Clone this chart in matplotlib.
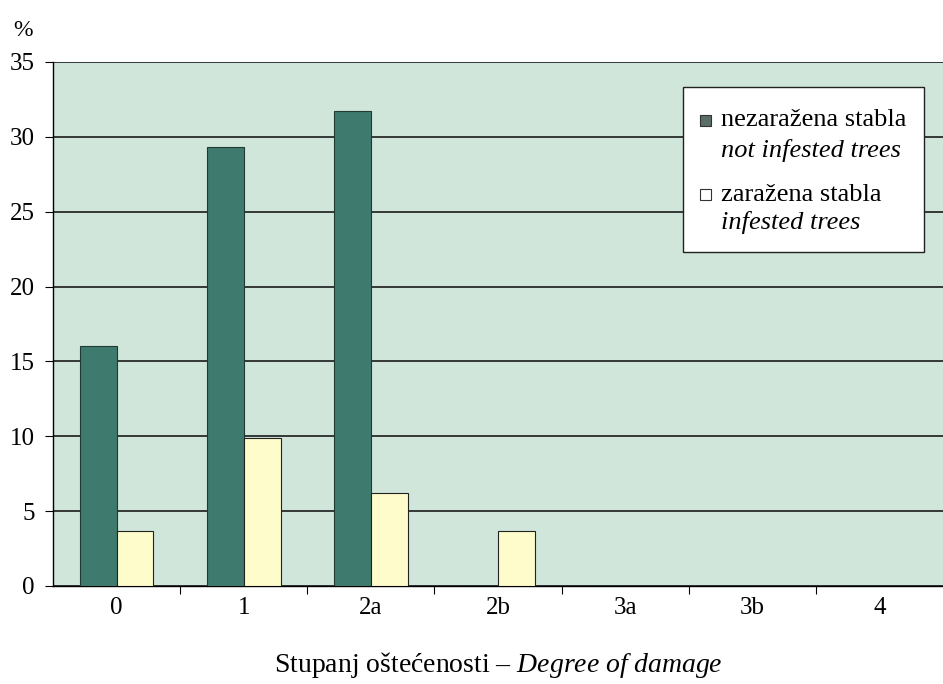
import numpy as np
import matplotlib.pyplot as plt
from matplotlib.patches import Rectangle

plt.rcParams['font.family'] = ['Liberation Serif', 'DejaVu Serif']
plt.rcParams['mathtext.fontset'] = 'custom'
plt.rcParams['mathtext.it'] = 'Liberation Serif:italic'
plt.rcParams['mathtext.rm'] = 'Liberation Serif'

# postotak stabala po stupnju oštećenosti
categories = ['0', '1', '2a', '2b', '3a', '3b', '4']
not_infested = [16.0, 29.3, 31.7, 0, 0, 0, 0]
infested = [3.7, 9.9, 6.2, 3.7, 0, 0, 0]

dark = '#3e7b6e'
light = '#fffccc'
bg = '#d0e6da'

fig = plt.figure(figsize=(9.43, 6.84), dpi=100)
ax = fig.add_axes([0.0562, 0.1433, 0.9438, 0.7661])
ax.set_facecolor(bg)

x = np.arange(len(categories))
w = 0.29
ax.bar(x - w / 2, not_infested, w, color=dark, edgecolor='#1e3a33', linewidth=0.8, zorder=3)
ax.bar(x + w / 2, infested, w, color=light, edgecolor='#222222', linewidth=0.8, zorder=3)

ax.set_xlim(-0.5, len(categories) - 0.5)
ax.set_ylim(0, 35)
ax.set_yticks(range(0, 36, 5))
ax.yaxis.grid(True, color='#1a1a1a', linewidth=1.2, zorder=1)
ax.set_axisbelow(True)

ax.set_xticks(x)
ax.set_xticklabels(categories)
ax.set_xticks(np.arange(0.5, len(categories) - 0.5, 1), minor=True)
ax.tick_params(axis='x', which='major', length=0, pad=8, labelsize=18)
ax.tick_params(axis='x', which='minor', length=6, width=0.8, direction='out')
ax.tick_params(axis='y', length=6, width=0.8, labelsize=18, pad=7)

for s in ['top', 'right']:
    ax.spines[s].set_visible(False)
ax.spines['left'].set_linewidth(1.0)
ax.spines['bottom'].set_linewidth(1.0)

ax.set_xlabel('Stupanj oštećenosti – $\\mathit{Degree\\ of\\ damage}$', fontsize=20, labelpad=22)
fig.text(0.014, 0.956, '%', fontsize=17, ha='left', va='center')

# legenda
ax.add_patch(Rectangle((0.708, 0.637), 0.2705, 0.316, transform=ax.transAxes,
                       facecolor='white', edgecolor='#222222', linewidth=1.0, zorder=5))
ax.add_patch(Rectangle((0.727, 0.878), 0.0125, 0.021, transform=ax.transAxes,
                       facecolor='#5a6e68', edgecolor='#333333', linewidth=0.8, zorder=6))
ax.add_patch(Rectangle((0.727, 0.737), 0.0125, 0.021, transform=ax.transAxes,
                       facecolor='white', edgecolor='#333333', linewidth=0.8, zorder=6))
ax.text(0.751, 0.889, 'nezaražena stabla', transform=ax.transAxes, fontsize=19,
        va='center', ha='left', zorder=7)
ax.text(0.751, 0.832, 'not infested trees', transform=ax.transAxes, fontsize=19,
        style='italic', va='center', ha='left', zorder=7)
ax.text(0.751, 0.746, 'zaražena stabla', transform=ax.transAxes, fontsize=19,
        va='center', ha='left', zorder=7)
ax.text(0.751, 0.693, 'infested trees', transform=ax.transAxes, fontsize=19,
        style='italic', va='center', ha='left', zorder=7)

fig.savefig('out.png', dpi=100)
